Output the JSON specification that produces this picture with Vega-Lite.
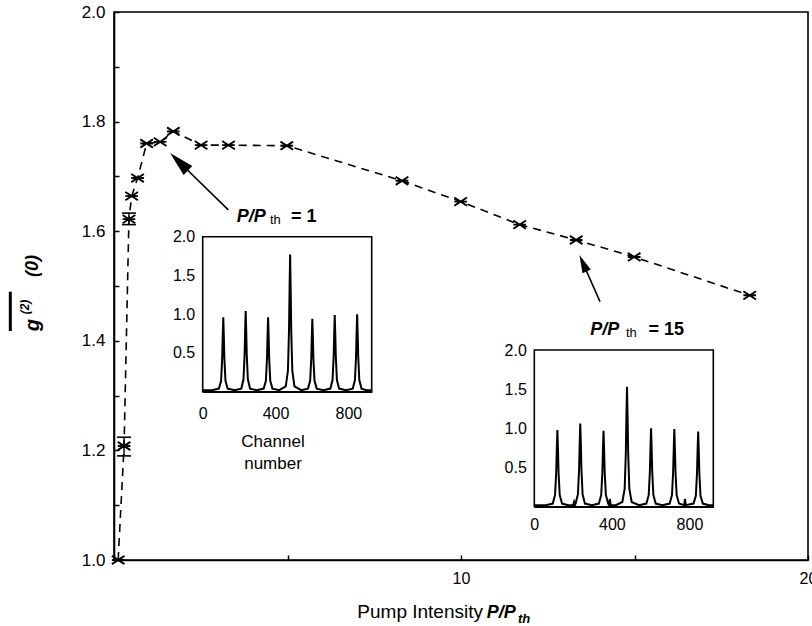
{
  "$schema": "https://vega.github.io/schema/vega-lite/v6.json",
  "width": 694,
  "height": 548,
  "autosize": "none",
  "padding": {"left": 114, "top": 12, "right": 4, "bottom": 66},
  "background": "white",
  "config": {
    "view": {"stroke": "black", "strokeWidth": 1.6},
    "font": "Liberation Sans",
    "axis": {"grid": false, "domainColor": "black", "domainWidth": 1.6, "tickColor": "black", "tickWidth": 1.5, "labelColor": "black", "labelFont": "Liberation Sans", "labelFlush": false, "labelOverlap": false, "labelBound": false}
  },
  "datasets": {
    "main": [
      {"p": 0.12, "g": 1.0},
      {"p": 0.29, "g": 1.208, "lo": 1.19, "hi": 1.224},
      {"p": 0.43, "g": 1.622, "lo": 1.612, "hi": 1.633},
      {"p": 0.51, "g": 1.664},
      {"p": 0.68, "g": 1.697},
      {"p": 0.94, "g": 1.760},
      {"p": 1.33, "g": 1.763},
      {"p": 1.71, "g": 1.782},
      {"p": 2.51, "g": 1.757},
      {"p": 3.30, "g": 1.757},
      {"p": 4.98, "g": 1.756},
      {"p": 8.30, "g": 1.692},
      {"p": 9.99, "g": 1.654},
      {"p": 11.69, "g": 1.612},
      {"p": 13.32, "g": 1.584},
      {"p": 14.99, "g": 1.553},
      {"p": 18.32, "g": 1.483}
    ],
    "in1": [
      {"ch": 0, "v": 0.02}, {"ch": 50, "v": 0.02},
      {"ch": 89, "v": 0.04}, {"ch": 101, "v": 0.14}, {"ch": 107, "v": 0.43}, {"ch": 110, "v": 0.72}, {"ch": 113, "v": 0.96}, {"ch": 116, "v": 0.72}, {"ch": 119, "v": 0.43}, {"ch": 125, "v": 0.14}, {"ch": 137, "v": 0.04},
      {"ch": 175, "v": 0.02},
      {"ch": 212, "v": 0.04}, {"ch": 224, "v": 0.16}, {"ch": 230, "v": 0.47}, {"ch": 233, "v": 0.78}, {"ch": 236, "v": 1.04}, {"ch": 239, "v": 0.78}, {"ch": 242, "v": 0.47}, {"ch": 248, "v": 0.16}, {"ch": 260, "v": 0.04},
      {"ch": 297, "v": 0.02},
      {"ch": 335, "v": 0.04}, {"ch": 347, "v": 0.14}, {"ch": 353, "v": 0.43}, {"ch": 356, "v": 0.72}, {"ch": 359, "v": 0.96}, {"ch": 362, "v": 0.72}, {"ch": 365, "v": 0.43}, {"ch": 371, "v": 0.14}, {"ch": 383, "v": 0.04},
      {"ch": 420, "v": 0.02},
      {"ch": 456, "v": 0.07}, {"ch": 468, "v": 0.27}, {"ch": 474, "v": 0.8}, {"ch": 477, "v": 1.33}, {"ch": 480, "v": 1.77}, {"ch": 483, "v": 1.33}, {"ch": 486, "v": 0.8}, {"ch": 492, "v": 0.27}, {"ch": 504, "v": 0.07},
      {"ch": 541, "v": 0.02},
      {"ch": 578, "v": 0.04}, {"ch": 590, "v": 0.14}, {"ch": 596, "v": 0.42}, {"ch": 599, "v": 0.7}, {"ch": 602, "v": 0.94}, {"ch": 605, "v": 0.7}, {"ch": 608, "v": 0.42}, {"ch": 614, "v": 0.14}, {"ch": 626, "v": 0.04},
      {"ch": 663, "v": 0.02},
      {"ch": 701, "v": 0.04}, {"ch": 713, "v": 0.15}, {"ch": 719, "v": 0.45}, {"ch": 722, "v": 0.74}, {"ch": 725, "v": 0.99}, {"ch": 728, "v": 0.74}, {"ch": 731, "v": 0.45}, {"ch": 737, "v": 0.15}, {"ch": 749, "v": 0.04},
      {"ch": 787, "v": 0.02},
      {"ch": 824, "v": 0.04}, {"ch": 836, "v": 0.15}, {"ch": 842, "v": 0.45}, {"ch": 845, "v": 0.75}, {"ch": 848, "v": 1.0}, {"ch": 851, "v": 0.75}, {"ch": 854, "v": 0.45}, {"ch": 860, "v": 0.15}, {"ch": 872, "v": 0.04},
      {"ch": 900, "v": 0.02}, {"ch": 928, "v": 0.02}
    ],
    "in2": [
      {"ch": 0, "v": 0.02}, {"ch": 60, "v": 0.02},
      {"ch": 95, "v": 0.04}, {"ch": 107, "v": 0.15}, {"ch": 113, "v": 0.44}, {"ch": 116, "v": 0.74}, {"ch": 119, "v": 0.98}, {"ch": 122, "v": 0.74}, {"ch": 125, "v": 0.44}, {"ch": 131, "v": 0.15}, {"ch": 143, "v": 0.04},
      {"ch": 175, "v": 0.02}, {"ch": 200, "v": 0.02}, {"ch": 205, "v": 0.06}, {"ch": 209, "v": 0.02},
      {"ch": 213, "v": 0.04}, {"ch": 225, "v": 0.16}, {"ch": 231, "v": 0.48}, {"ch": 234, "v": 0.8}, {"ch": 237, "v": 1.06}, {"ch": 240, "v": 0.8}, {"ch": 243, "v": 0.48}, {"ch": 249, "v": 0.16}, {"ch": 261, "v": 0.04},
      {"ch": 297, "v": 0.02},
      {"ch": 333, "v": 0.04}, {"ch": 345, "v": 0.15}, {"ch": 351, "v": 0.44}, {"ch": 354, "v": 0.73}, {"ch": 357, "v": 0.97}, {"ch": 360, "v": 0.73}, {"ch": 363, "v": 0.44}, {"ch": 369, "v": 0.15}, {"ch": 381, "v": 0.04},
      {"ch": 386, "v": 0.02}, {"ch": 390, "v": 0.1}, {"ch": 394, "v": 0.02},
      {"ch": 420, "v": 0.02},
      {"ch": 454, "v": 0.06}, {"ch": 466, "v": 0.23}, {"ch": 472, "v": 0.69}, {"ch": 475, "v": 1.15}, {"ch": 478, "v": 1.53}, {"ch": 481, "v": 1.15}, {"ch": 484, "v": 0.69}, {"ch": 490, "v": 0.23}, {"ch": 502, "v": 0.06},
      {"ch": 540, "v": 0.02},
      {"ch": 578, "v": 0.04}, {"ch": 590, "v": 0.15}, {"ch": 596, "v": 0.45}, {"ch": 599, "v": 0.75}, {"ch": 602, "v": 1.0}, {"ch": 605, "v": 0.75}, {"ch": 608, "v": 0.45}, {"ch": 614, "v": 0.15}, {"ch": 626, "v": 0.04},
      {"ch": 660, "v": 0.02},
      {"ch": 698, "v": 0.04}, {"ch": 710, "v": 0.15}, {"ch": 716, "v": 0.45}, {"ch": 719, "v": 0.74}, {"ch": 722, "v": 0.99}, {"ch": 725, "v": 0.74}, {"ch": 728, "v": 0.45}, {"ch": 734, "v": 0.15}, {"ch": 746, "v": 0.04},
      {"ch": 773, "v": 0.02}, {"ch": 777, "v": 0.1}, {"ch": 781, "v": 0.02},
      {"ch": 821, "v": 0.04}, {"ch": 833, "v": 0.14}, {"ch": 839, "v": 0.43}, {"ch": 842, "v": 0.72}, {"ch": 845, "v": 0.96}, {"ch": 848, "v": 0.72}, {"ch": 851, "v": 0.43}, {"ch": 857, "v": 0.14}, {"ch": 869, "v": 0.04},
      {"ch": 900, "v": 0.02}, {"ch": 923, "v": 0.02}
    ]
  },
  "layer": [
    {
      "data": {"name": "main"},
      "encoding": {
        "x": {"field": "p", "type": "quantitative", "title": null,
          "scale": {"domain": [0, 20], "nice": false, "zero": false},
          "axis": {"orient": "bottom", "values": [0, 5, 10, 15, 20], "labelExpr": "datum.value == 10 || datum.value == 20 ? datum.label : ''", "tickSize": -5, "labelPadding": 15, "labelFontSize": 16, "title": null}},
        "y": {"field": "g", "type": "quantitative", "title": null,
          "scale": {"domain": [1, 2], "nice": false, "zero": false},
          "axis": {"orient": "left", "values": [1.0, 1.1, 1.2, 1.3, 1.4, 1.5, 1.6, 1.7, 1.8, 1.9, 2.0], "labelExpr": "round(datum.value * 10) % 2 == 0 ? format(datum.value, '.1f') : ''", "tickSize": -5, "labelPadding": 14, "labelFontSize": 17, "title": null}}
      },
      "layer": [
        {"mark": {"type": "line", "color": "black", "strokeWidth": 1.6, "strokeDash": [8, 6]}},
        {"mark": {"type": "point", "shape": "M-1,-0.65L1,0.65M-1,0.65L1,-0.65M-1,0L1,0", "size": 160, "filled": false, "color": "black", "strokeWidth": 1.9, "opacity": 1}},
        {"transform": [{"filter": "isValid(datum.lo)"}],
          "mark": {"type": "rule", "color": "black", "strokeWidth": 1.4},
          "encoding": {"y": {"field": "lo", "type": "quantitative", "title": null}, "y2": {"field": "hi"}}},
        {"transform": [{"filter": "isValid(datum.lo)"}],
          "mark": {"type": "point", "shape": "M-1,0L1,0", "size": 196, "filled": false, "color": "black", "strokeWidth": 1.6, "opacity": 1},
          "encoding": {"y": {"field": "lo", "type": "quantitative", "title": null}}},
        {"transform": [{"filter": "isValid(datum.hi)"}],
          "mark": {"type": "point", "shape": "M-1,0L1,0", "size": 196, "filled": false, "color": "black", "strokeWidth": 1.6, "opacity": 1},
          "encoding": {"y": {"field": "hi", "type": "quantitative", "title": null}}},
        {"transform": [{"filter": "datum.p == 0.12"}],
          "mark": {"type": "rule", "color": "black", "strokeWidth": 1.6},
          "encoding": {"x": {"datum": 3.294}, "y": {"datum": 1.639}, "x2": {"datum": 1.873}, "y2": {"datum": 1.7268}}},
        {"transform": [{"filter": "datum.p == 0.12"}],
          "mark": {"type": "point", "shape": "M0,-1L0.5,1L-0.5,1Z", "size": 625, "filled": true, "color": "black", "opacity": 1, "angle": 314},
          "encoding": {"x": {"datum": 1.873}, "y": {"datum": 1.7268}}},
        {"transform": [{"filter": "datum.p == 0.12"}],
          "mark": {"type": "rule", "color": "black", "strokeWidth": 1.6},
          "encoding": {"x": {"datum": 14.006}, "y": {"datum": 1.4714}, "x2": {"datum": 13.516}, "y2": {"datum": 1.5416}}},
        {"transform": [{"filter": "datum.p == 0.12"}],
          "mark": {"type": "point", "shape": "M0,-1L0.5,1L-0.5,1Z", "size": 324, "filled": true, "color": "black", "opacity": 1, "angle": 336},
          "encoding": {"x": {"datum": 13.516}, "y": {"datum": 1.5416}}},
        {"transform": [{"filter": "datum.p == 0.12"}],
          "mark": {"type": "text", "text": "P/P", "font": "Liberation Sans", "fontSize": 18, "fontWeight": "bold", "fontStyle": "italic", "align": "left", "baseline": "alphabetic", "color": "black"},
          "encoding": {"x": {"datum": 3.536}, "y": {"datum": 1.6173}}},
        {"transform": [{"filter": "datum.p == 0.12"}],
          "mark": {"type": "text", "text": "th", "font": "Liberation Sans", "fontSize": 13, "align": "left", "baseline": "alphabetic", "color": "black"},
          "encoding": {"x": {"datum": 4.496}, "y": {"datum": 1.6131}}},
        {"transform": [{"filter": "datum.p == 0.12"}],
          "mark": {"type": "text", "text": "= 1", "font": "Liberation Sans", "fontSize": 18, "fontWeight": "bold", "align": "left", "baseline": "alphabetic", "color": "black"},
          "encoding": {"x": {"datum": 5.1}, "y": {"datum": 1.6173}}},
        {"transform": [{"filter": "datum.p == 0.12"}],
          "mark": {"type": "text", "text": "P/P", "font": "Liberation Sans", "fontSize": 18, "fontWeight": "bold", "fontStyle": "italic", "align": "left", "baseline": "alphabetic", "color": "black"},
          "encoding": {"x": {"datum": 13.726}, "y": {"datum": 1.4111}}},
        {"transform": [{"filter": "datum.p == 0.12"}],
          "mark": {"type": "text", "text": "th", "font": "Liberation Sans", "fontSize": 13, "align": "left", "baseline": "alphabetic", "color": "black"},
          "encoding": {"x": {"datum": 14.755}, "y": {"datum": 1.4069}}},
        {"transform": [{"filter": "datum.p == 0.12"}],
          "mark": {"type": "text", "text": "= 15", "font": "Liberation Sans", "fontSize": 18, "fontWeight": "bold", "align": "left", "baseline": "alphabetic", "color": "black"},
          "encoding": {"x": {"datum": 15.4}, "y": {"datum": 1.4111}}},
        {"transform": [{"filter": "datum.p == 0.12"}],
          "mark": {"type": "text", "text": "Channel", "font": "Liberation Sans", "fontSize": 17, "align": "center", "baseline": "alphabetic", "color": "black"},
          "encoding": {"x": {"datum": 4.582}, "y": {"datum": 1.2062}}},
        {"transform": [{"filter": "datum.p == 0.12"}],
          "mark": {"type": "text", "text": "number", "font": "Liberation Sans", "fontSize": 17, "align": "center", "baseline": "alphabetic", "color": "black"},
          "encoding": {"x": {"datum": 4.582}, "y": {"datum": 1.166}}},
        {"transform": [{"filter": "datum.p == 0.12"}],
          "mark": {"type": "text", "text": "Pump Intensity", "font": "Liberation Sans", "fontSize": 19, "align": "right", "baseline": "alphabetic", "color": "black"},
          "encoding": {"x": {"datum": 10.634}, "y": {"datum": 0.8942}}},
        {"transform": [{"filter": "datum.p == 0.12"}],
          "mark": {"type": "text", "text": "P/P", "font": "Liberation Sans", "fontSize": 18, "fontWeight": "bold", "fontStyle": "italic", "align": "left", "baseline": "alphabetic", "color": "black"},
          "encoding": {"x": {"datum": 10.741}, "y": {"datum": 0.8942}}},
        {"transform": [{"filter": "datum.p == 0.12"}],
          "mark": {"type": "text", "text": "th", "font": "Liberation Sans", "fontSize": 13, "fontWeight": "bold", "fontStyle": "italic", "align": "left", "baseline": "alphabetic", "color": "black"},
          "encoding": {"x": {"datum": 11.643}, "y": {"datum": 0.885}}},
        {"transform": [{"filter": "datum.p == 0.12"}],
          "mark": {"type": "text", "text": "g", "font": "Liberation Sans", "fontSize": 20, "fontWeight": "bold", "fontStyle": "italic", "align": "center", "baseline": "middle", "angle": 270, "color": "black"},
          "encoding": {"x": {"datum": -2.334}, "y": {"datum": 1.4288}}},
        {"transform": [{"filter": "datum.p == 0.12"}],
          "mark": {"type": "text", "text": "(2)", "font": "Liberation Sans", "fontSize": 12, "fontWeight": "bold", "fontStyle": "italic", "align": "center", "baseline": "middle", "angle": 270, "color": "black"},
          "encoding": {"x": {"datum": -2.565}, "y": {"datum": 1.4617}}},
        {"transform": [{"filter": "datum.p == 0.12"}],
          "mark": {"type": "text", "text": "(0)", "font": "Liberation Sans", "fontSize": 18, "fontWeight": "bold", "fontStyle": "italic", "align": "center", "baseline": "middle", "angle": 270, "color": "black"},
          "encoding": {"x": {"datum": -2.334}, "y": {"datum": 1.5365}}},
        {"transform": [{"filter": "datum.p == 0.12"}],
          "mark": {"type": "rule", "color": "black", "strokeWidth": 3},
          "encoding": {"x": {"datum": -2.988}, "y": {"datum": 1.4179}, "y2": {"datum": 1.4896}}}
      ]
    },
    {
      "data": {"name": "in1"},
      "encoding": {
        "x": {"field": "ch", "type": "quantitative", "title": null,
          "scale": {"domain": [0, 928], "range": [88.7, 257.7], "nice": false, "zero": false},
          "axis": {"orient": "bottom", "offset": -168.3, "values": [0, 400, 800], "ticks": false, "labelPadding": 14, "labelFontSize": 16, "title": null}},
        "y": {"field": "v", "type": "quantitative", "title": null,
          "scale": {"domain": [0, 2], "range": [379.7, 224.7], "nice": false, "zero": false},
          "axis": {"orient": "left", "offset": -88.7, "values": [0.25, 0.5, 0.75, 1.0, 1.25, 1.5, 1.75, 2.0], "labelExpr": "datum.value % 0.5 == 0 ? format(datum.value, '.1f') : ''", "tickSize": -4, "labelPadding": 12, "labelFontSize": 16, "title": null}}
      },
      "layer": [
        {"transform": [{"filter": "datum.ch == 0"}],
          "mark": {"type": "rect", "fill": "white", "stroke": "black", "strokeWidth": 1.6},
          "encoding": {"x": {"datum": 0}, "x2": {"datum": 928}, "y": {"datum": 0}, "y2": {"datum": 2}}},
        {"mark": {"type": "line", "color": "black", "strokeWidth": 2}}
      ]
    },
    {
      "data": {"name": "in2"},
      "encoding": {
        "x": {"field": "ch", "type": "quantitative", "title": null,
          "scale": {"domain": [0, 923], "range": [420.3, 599.3], "nice": false, "zero": false},
          "axis": {"orient": "bottom", "offset": -53.3, "values": [0, 400, 800], "ticks": false, "labelPadding": 10, "labelFontSize": 16, "title": null}},
        "y": {"field": "v", "type": "quantitative", "title": null,
          "scale": {"domain": [0, 2], "range": [494.7, 338], "nice": false, "zero": false},
          "axis": {"orient": "left", "offset": -420.3, "values": [0.25, 0.5, 0.75, 1.0, 1.25, 1.5, 1.75, 2.0], "labelExpr": "datum.value % 0.5 == 0 ? format(datum.value, '.1f') : ''", "tickSize": -4, "labelPadding": 12, "labelFontSize": 16, "title": null}}
      },
      "layer": [
        {"transform": [{"filter": "datum.ch == 0"}],
          "mark": {"type": "rect", "fill": "white", "stroke": "black", "strokeWidth": 1.6},
          "encoding": {"x": {"datum": 0}, "x2": {"datum": 923}, "y": {"datum": 0}, "y2": {"datum": 2}}},
        {"mark": {"type": "line", "color": "black", "strokeWidth": 2}}
      ]
    }
  ],
  "resolve": {"scale": {"x": "independent", "y": "independent"}, "axis": {"x": "independent", "y": "independent"}}
}
